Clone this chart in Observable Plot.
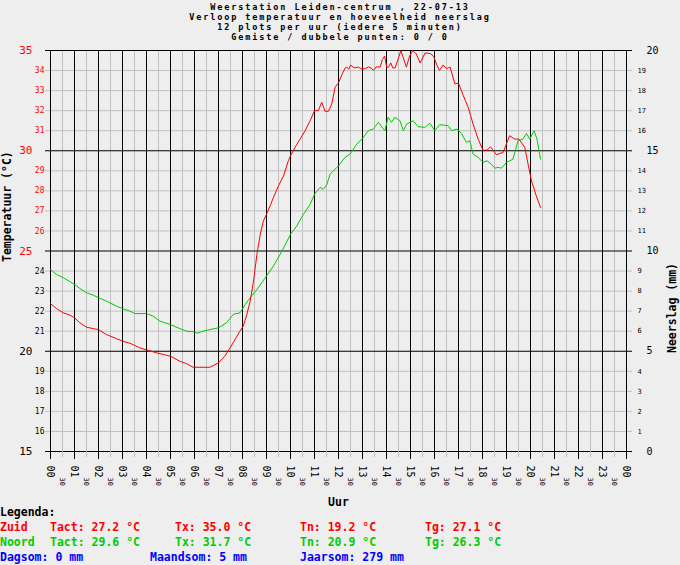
<!DOCTYPE html>
<html>
<head>
<meta charset="utf-8">
<script src="https://cdn.jsdelivr.net/npm/d3@7"></script>
<script src="https://cdn.jsdelivr.net/npm/@observablehq/plot@0.6"></script>
<style>
  html, body { margin:0; padding:0; background:#eeeeee; }
  body { width:680px; height:565px; overflow:hidden; font-family:"DejaVu Sans Mono", monospace; }
  #title { height:44px; box-sizing:border-box; padding-top:2px; text-align:center; font-weight:bold; font-size:8.5px; letter-spacing:1.9px; line-height:10px; color:#000; }
  #title div { height:10px; }
  #chart svg { display:block; }
  #legend { position:relative; margin-top:-11px; font-weight:bold; font-size:11.5px; line-height:15px; }
  .row { position:relative; height:15px; }
  .row span { position:absolute; top:0; white-space:pre; }
</style>
</head>
<body>
<div id="title"></div>
<div id="chart"></div>
<div id="legend"></div>
<script>
// ---------- data ----------
const titleLines = [
  "Weerstation Leiden-centrum , 22-07-13",
  "Verloop temperatuur en hoeveelheid neerslag",
  "12 plots per uur (iedere 5 minuten)",
  "Gemiste / dubbele punten: 0 / 0"
];

const hourLabels = ["00","01","02","03","04","05","06","07","08","09","10","11","12",
                    "13","14","15","16","17","18","19","20","21","22","23","00"];

// Zuid (red) temperature, hour of day
const zuidHour = [0.00,0.25,0.53,0.81,1.00,1.22,1.50,1.78,2.00,2.33,2.75,3.00,3.31,3.72,4.00,4.42,4.83,5.00,5.39,5.67,5.94,6.22,6.64,7.00,7.26,7.61,7.89,8.03,8.18,8.32,8.46,8.60,8.74,8.87,9.00,9.15,9.29,9.50,9.71,9.91,10.00,10.19,10.40,10.61,10.82,11.00,11.16,11.30,11.44,11.58,11.72,11.86,12.00,12.14,12.28,12.35,12.42,12.51,12.65,12.83,12.97,13.11,13.25,13.39,13.46,13.57,13.74,13.83,13.92,14.01,14.08,14.18,14.26,14.36,14.50,14.60,14.69,14.83,14.96,15.10,15.24,15.40,15.61,15.82,15.96,16.10,16.21,16.35,16.51,16.65,16.85,17.00,17.20,17.40,17.61,17.82,18.02,18.19,18.33,18.58,18.86,19.13,19.34,19.52,19.76,19.90,20.04,20.24,20.42];
const zuidTemp = [22.37,22.13,21.92,21.80,21.67,21.42,21.20,21.13,21.08,20.83,20.63,20.50,20.40,20.17,20.07,19.92,19.80,19.75,19.50,19.38,19.20,19.20,19.20,19.42,19.75,20.42,21.00,21.25,21.83,22.50,23.50,24.83,25.83,26.50,26.83,27.25,27.67,28.25,28.75,29.50,29.75,30.17,30.58,31.00,31.50,32.00,32.00,32.42,31.97,31.97,32.33,33.17,33.39,33.80,34.13,34.17,34.07,34.27,34.13,34.17,34.07,34.10,34.18,34.10,34.00,34.18,34.18,34.55,34.72,34.17,34.17,34.38,34.13,34.13,34.63,35.00,34.67,34.17,34.72,35.00,34.83,34.38,34.88,34.85,34.72,34.27,34.00,34.27,34.10,34.17,33.33,33.37,32.75,32.17,31.33,30.58,30.03,30.03,30.20,29.80,29.92,30.75,30.58,30.58,30.17,29.33,28.50,27.75,27.17];

// Noord (green) temperature, hour of day
const noordHour = [0.00,0.25,0.53,0.81,1.00,1.22,1.50,1.78,2.00,2.33,2.75,3.00,3.31,3.51,4.00,4.28,4.56,5.00,5.39,5.67,6.00,6.11,6.36,6.64,7.00,7.33,7.63,7.90,8.11,8.32,8.60,9.00,9.29,9.57,10.00,10.26,10.54,10.82,11.00,11.23,11.37,11.51,11.65,12.00,12.27,12.48,12.76,13.00,13.24,13.45,13.66,13.93,14.07,14.21,14.35,14.56,14.70,14.84,15.11,15.32,15.60,15.81,16.01,16.22,16.57,16.71,16.94,17.12,17.33,17.47,17.61,17.82,18.02,18.19,18.37,18.51,18.65,18.79,19.00,19.27,19.48,19.69,19.83,19.97,20.15,20.27,20.38,20.42];
const noordTemp = [24.08,23.83,23.67,23.47,23.33,23.13,22.92,22.80,22.67,22.50,22.25,22.13,22.00,21.88,21.88,21.75,21.50,21.33,21.13,21.00,20.97,20.90,21.00,21.08,21.17,21.42,21.85,21.92,22.33,22.67,23.08,23.75,24.25,24.83,25.83,26.25,26.83,27.33,27.83,28.17,28.08,28.30,28.83,29.25,29.67,29.83,30.33,30.62,31.00,31.08,31.42,31.00,31.67,31.42,31.67,31.50,31.00,31.33,31.50,31.20,31.17,31.37,31.00,31.30,31.25,31.00,31.08,30.87,30.42,30.50,29.83,29.67,29.42,29.50,29.33,29.13,29.17,29.13,29.42,29.58,30.50,30.58,30.87,30.58,31.00,30.58,29.83,29.58];

// legend texts
const legendRows = [
  {color:"#ff0000", cells:["Zuid","Tact: 27.2 °C","Tx: 35.0 °C","Tn: 19.2 °C","Tg: 27.1 °C"]},
  {color:"#00cc00", cells:["Noord","Tact: 29.6 °C","Tx: 31.7 °C","Tn: 20.9 °C","Tg: 26.3 °C"]}
];
const legendCols = [0, 50, 175, 300, 425];
const rainCells = ["Dagsom: 0 mm","Maandsom: 5 mm","Jaarsom: 279 mm"];
const rainCols = [0, 150, 300];

// ---------- title ----------
document.getElementById("title").innerHTML = titleLines.map(s => `<div>${s}</div>`).join("");

// ---------- chart ----------
const zuid = zuidHour.map((h,i) => ({h, t: zuidTemp[i]}));
const noord = noordHour.map((h,i) => ({h, t: noordTemp[i]}));

const hourTicks = d3.range(0, 25);
const halfTicks = d3.range(0.5, 24, 1);
const majorT = [15,20,25,30,35];
const minorT = d3.range(15, 36).filter(d => d % 5 !== 0);
const GRAY = "#c0c0c0";
const RED = "#ff0000", GREEN = "#00cc00";

const chart = Plot.plot({
  width: 680,
  height: 472,
  marginTop: 6,
  marginBottom: 65,
  marginLeft: 50,
  marginRight: 54,
  style: {background: "#eeeeee", fontFamily: "DejaVu Sans Mono", color: "#000"},
  x: {domain: [0, 24], axis: null},
  y: {domain: [15, 35], axis: null},
  marks: [
    // gray grid
    Plot.gridX(halfTicks, {stroke: GRAY, strokeOpacity: 1}),
    Plot.gridY(minorT, {stroke: GRAY, strokeOpacity: 1}),
    // black grid
    Plot.gridX(hourTicks, {stroke: "#000", strokeOpacity: 1}),
    Plot.gridY(majorT, {stroke: "#000", strokeOpacity: 1}),
    // x axis: hours
    Plot.axisX(hourTicks, {anchor: "bottom", tickSize: 8, tickPadding: 6, tickRotate: 90,
      stroke: "#000", fill: "#000", fontSize: 10, label: null,
      tickFormat: d => hourLabels[Math.round(d)]}),
    // x axis: half hours
    Plot.axisX(halfTicks, {anchor: "bottom", tickSize: 6, tickPadding: 20, tickRotate: 90,
      stroke: GRAY, fill: "#000", fontSize: 7, label: null,
      tickFormat: () => "30"}),
    // left axis minor
    Plot.axisY(minorT.filter(d => d > 25), {anchor: "left", tickSize: 5, tickPadding: 1,
      stroke: GRAY, fill: RED, fontSize: 8, label: null}),
    Plot.axisY(minorT.filter(d => d < 25), {anchor: "left", tickSize: 5, tickPadding: 1,
      stroke: GRAY, fill: "#000", fontSize: 8, label: null}),
    // left axis major
    Plot.axisY(majorT.filter(d => d >= 25), {anchor: "left", tickSize: 5, tickPadding: 13,
      stroke: "#000", fill: RED, fontSize: 11, label: null}),
    Plot.axisY(majorT.filter(d => d < 25), {anchor: "left", tickSize: 5, tickPadding: 13,
      stroke: "#000", fill: "#000", fontSize: 11, label: null}),
    // right axis (neerslag mm)
    Plot.axisY(minorT, {anchor: "right", tickSize: 5, tickPadding: 6,
      stroke: GRAY, fill: "#000", fontSize: 7, label: null, tickFormat: d => String(d - 15)}),
    Plot.axisY(majorT, {anchor: "right", tickSize: 5, tickPadding: 15,
      stroke: "#000", fill: "#000", fontSize: 10, label: null, tickFormat: d => String(d - 15)}),
    // data lines
    Plot.line(noord, {x: "h", y: "t", stroke: GREEN, strokeWidth: 1}),
    Plot.line(zuid, {x: "h", y: "t", stroke: RED, strokeWidth: 1}),
    // axis titles
    Plot.text(["Temperatuur (°C)"], {frameAnchor: "left", dx: -43, dy: 11, rotate: -90,
      text: d => d, fontWeight: "bold", fontSize: 11.5, fill: "#000"}),
    Plot.text(["Neerslag (mm)"], {frameAnchor: "right", dx: 46, dy: 12, rotate: -90,
      text: d => d, fontWeight: "bold", fontSize: 11.5, fill: "#000"}),
    Plot.text(["Uur"], {frameAnchor: "bottom", dy: 51, lineAnchor: "middle",
      text: d => d, fontWeight: "bold", fontSize: 11.5, fill: "#000"})
  ]
});
document.getElementById("chart").appendChild(chart);

// ---------- legend ----------
const lg = document.getElementById("legend");
let html = `<div class="row"><span style="left:0">Legenda:</span></div>`;
for (const r of legendRows) {
  html += `<div class="row" style="color:${r.color}">` +
    r.cells.map((c,i) => `<span style="left:${legendCols[i]}px">${c}</span>`).join("") + `</div>`;
}
html += `<div class="row" style="color:#0000ff">` +
  rainCells.map((c,i) => `<span style="left:${rainCols[i]}px">${c}</span>`).join("") + `</div>`;
lg.innerHTML = html;
</script>
</body>
</html>
